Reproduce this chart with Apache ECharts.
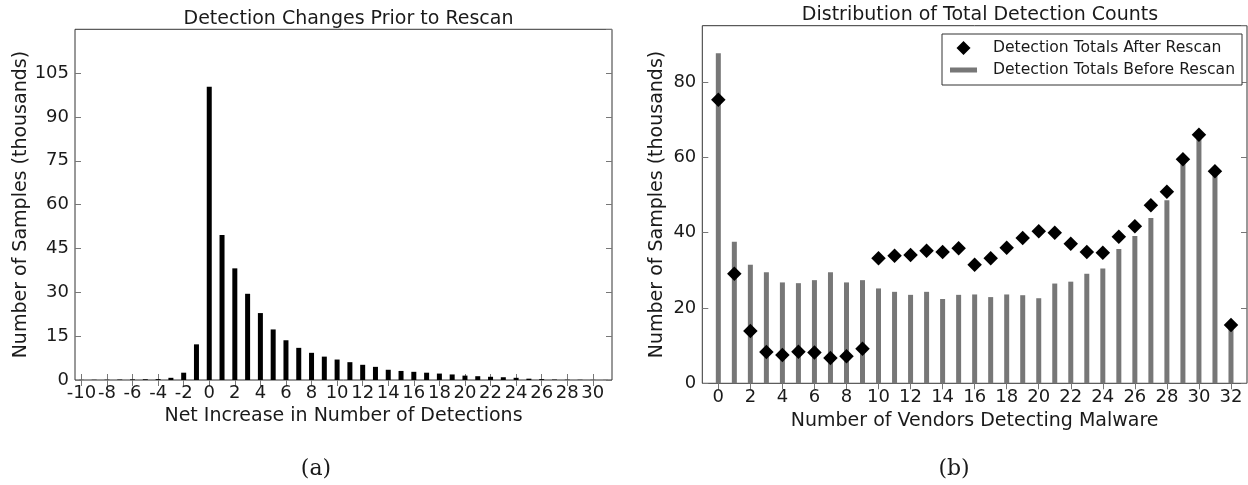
<!DOCTYPE html>
<html>
<head>
<meta charset="utf-8">
<script src="https://cdn.jsdelivr.net/npm/echarts@6/dist/echarts.min.js"></script>
<style>
html,body{margin:0;padding:0;background:#fff;}
#chart{width:1248px;height:485px;}
</style>
</head>
<body>
<div id="chart"></div>
<script>
// ---- Panel (a): Detection Changes Prior to Rescan ----
const leftCategories = ['-10','-9','-8','-7','-6','-5','-4','-3','-2','-1','0','1','2','3','4','5','6','7','8','9','10','11','12','13','14','15','16','17','18','19','20','21','22','23','24','25','26','27','28','29','30','31'];
const leftValues = [0.05,0.08,0.1,0.15,0.2,0.25,0.3,0.75,2.5,12.2,100.3,49.6,38.2,29.5,22.9,17.3,13.6,11.0,9.3,8.0,7.0,6.1,5.2,4.5,3.5,3.1,2.8,2.5,2.2,1.9,1.5,1.3,1.1,0.95,0.75,0.45,0.3,0.15,0.1,0.08,0.05,0.03];

// ---- Panel (b): Distribution of Total Detection Counts ----
// axis spans -1 .. 33 (padding categories at both ends carry no data)
const rightCategories = ['-1','0','1','2','3','4','5','6','7','8','9','10','11','12','13','14','15','16','17','18','19','20','21','22','23','24','25','26','27','28','29','30','31','32','33'];
const beforeRescan = [null,87.7,37.6,31.5,29.5,26.8,26.6,27.4,29.5,26.8,27.4,25.2,24.3,23.5,24.3,22.4,23.5,23.6,22.9,23.6,23.4,22.6,26.5,27.0,29.1,30.5,35.7,39.1,43.9,48.6,59.0,65.5,56.0,15.0,null];
const afterRescan = [null,75.3,29.1,13.9,8.3,7.5,8.4,8.2,6.7,7.2,9.2,33.2,33.9,34.1,35.2,34.9,35.9,31.5,33.2,36.0,38.6,40.4,40.0,37.1,34.9,34.7,38.9,41.7,47.3,50.9,59.5,66.0,56.3,15.5,null];

const titles = ['Detection Changes Prior to Rescan', 'Distribution of Total Detection Counts'];
const xNames = ['Net Increase in Number of Detections', 'Number of Vendors Detecting Malware'];
const yName = 'Number of Samples (thousands)';
const captions = ['(a)', '(b)'];
const seriesNames = ['Detection Totals After Rescan', 'Detection Totals Before Rescan'];

const FONT = 'DejaVu Sans';
const TXT = '#1a1a1a';
const TICK = '#777';
const tickCommon = {show: true, inside: true, length: 6, lineStyle: {color: TICK, width: 1}};
const labelCommon = {color: TXT, fontFamily: FONT, fontSize: 18};
const evenOnly = (i, v) => Number(v) % 2 === 0;

const chart = echarts.init(document.getElementById('chart'), null, {renderer: 'canvas'});
chart.setOption({
  backgroundColor: '#fff',
  animation: false,
  title: [
    {text: titles[0], left: 343.5, top: 5, textAlign: 'center',
     textStyle: {fontFamily: FONT, fontSize: 19, fontWeight: 'normal', color: TXT}},
    {text: titles[1], left: 975, top: 1, textAlign: 'center',
     textStyle: {fontFamily: FONT, fontSize: 19, fontWeight: 'normal', color: TXT}},
    {text: captions[0], left: 311, top: 453, textAlign: 'center',
     textStyle: {fontFamily: 'DejaVu Serif', fontSize: 22, fontWeight: 'normal', color: TXT}},
    {text: captions[1], left: 949, top: 453, textAlign: 'center',
     textStyle: {fontFamily: 'DejaVu Serif', fontSize: 22, fontWeight: 'normal', color: TXT}}
  ],
  legend: {
    left: 942, top: 34, orient: 'vertical',
    padding: [6, 7, 7, 8], itemGap: 6,
    itemWidth: 43, itemHeight: 14,
    backgroundColor: '#fff', borderColor: '#333', borderWidth: 1, borderRadius: 0,
    textStyle: {fontFamily: FONT, fontSize: 15.6, color: TXT, padding: [0,0,0,-5]},
    selectedMode: false,
    data: [
      {name: seriesNames[0], icon: 'path://M0,0L43,14L0,0Z M13.5,0L20.5,7L13.5,14L6.5,7Z'},
      {name: seriesNames[1], icon: 'path://M0,0L43,14L0,0Z M0,4.5L27,4.5L27,9.5L0,9.5Z'}
    ]
  },
  grid: [
    {left: 75, top: 29.3, width: 537, height: 350.7, show: true, borderColor: '#333', borderWidth: 1, containLabel: false},
    {left: 702.3, top: 25.7, width: 544.7, height: 357.6, show: true, borderColor: '#333', borderWidth: 1, containLabel: false}
  ],
  xAxis: [
    {type: 'category', gridIndex: 0, position: 'bottom', data: leftCategories, boundaryGap: true,
     axisLine: {show: false}, axisTick: Object.assign({}, tickCommon, {alignWithLabel: true, interval: 1}),
     axisLabel: Object.assign({}, labelCommon, {interval: 1, margin: 4}),
     name: xNames[0], nameLocation: 'middle', nameGap: 19,
     nameTextStyle: {fontFamily: FONT, fontSize: 19, color: TXT}},
    {type: 'category', gridIndex: 0, position: 'top', data: leftCategories, boundaryGap: true,
     axisLine: {show: false}, axisTick: Object.assign({}, tickCommon, {alignWithLabel: true, interval: 1}),
     axisLabel: {show: false}},
    {type: 'category', gridIndex: 1, position: 'bottom', data: rightCategories, boundaryGap: false,
     axisLine: {show: false}, axisTick: Object.assign({}, tickCommon, {interval: evenOnly}),
     axisLabel: Object.assign({}, labelCommon, {interval: evenOnly, margin: 5}),
     name: xNames[1], nameLocation: 'middle', nameGap: 24,
     nameTextStyle: {fontFamily: FONT, fontSize: 19, color: TXT}},
    {type: 'category', gridIndex: 1, position: 'top', data: rightCategories, boundaryGap: false,
     axisLine: {show: false}, axisTick: Object.assign({}, tickCommon, {interval: evenOnly}),
     axisLabel: {show: false}}
  ],
  yAxis: [
    {type: 'value', gridIndex: 0, position: 'left', min: 0, max: 120, interval: 15,
     axisLine: {show: false}, splitLine: {show: false}, axisTick: tickCommon,
     axisLabel: Object.assign({}, labelCommon, {margin: 6, showMaxLabel: false}),
     name: yName, nameLocation: 'middle', nameGap: 43,
     nameTextStyle: {fontFamily: FONT, fontSize: 19, color: TXT}},
    {type: 'value', gridIndex: 0, position: 'right', min: 0, max: 120, interval: 15,
     axisLine: {show: false}, splitLine: {show: false}, axisTick: tickCommon, axisLabel: {show: false}},
    {type: 'value', gridIndex: 1, position: 'left', min: 0, max: 95, interval: 20,
     axisLine: {show: false}, splitLine: {show: false}, axisTick: tickCommon,
     axisLabel: Object.assign({}, labelCommon, {margin: 6, showMaxLabel: false}),
     name: yName, nameLocation: 'middle', nameGap: 36,
     nameTextStyle: {fontFamily: FONT, fontSize: 19, color: TXT}},
    {type: 'value', gridIndex: 1, position: 'right', min: 0, max: 95, interval: 20,
     axisLine: {show: false}, splitLine: {show: false}, axisTick: tickCommon, axisLabel: {show: false}}
  ],
  series: [
    {type: 'bar', name: 'Net increase', xAxisIndex: 0, yAxisIndex: 0, data: leftValues,
     barWidth: 5, itemStyle: {color: '#000', opacity: 1}, silent: true},
    {type: 'bar', name: seriesNames[1], xAxisIndex: 2, yAxisIndex: 2, data: beforeRescan,
     barWidth: 5, itemStyle: {color: '#777777', opacity: 1}, silent: true, z: 2},
    {type: 'scatter', name: seriesNames[0], xAxisIndex: 2, yAxisIndex: 2, data: afterRescan,
     symbol: 'diamond', symbolSize: 14.5, itemStyle: {color: '#000', opacity: 1}, silent: true, z: 3}
  ]
});
</script>
</body>
</html>
